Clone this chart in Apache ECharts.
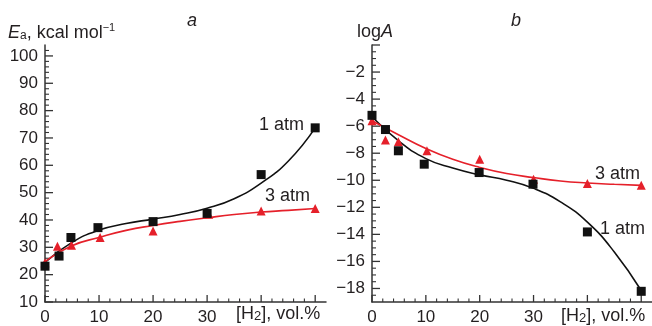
<!DOCTYPE html>
<html><head><meta charset="utf-8">
<script src="https://cdn.jsdelivr.net/npm/echarts@6/dist/echarts.min.js"></script>
<style>html,body{margin:0;padding:0;background:#fff}#c{width:652px;height:326px}</style>
</head><body><div id="c"></div>
<script>
// ---- Panel a: activation energy ----
const aX1 = [0, 2.6, 4.8, 9.8, 20, 30, 40, 50];
const aY1 = [23.1, 26.8, 33.6, 37.2, 39.4, 42.4, 56.6, 73.7];      // 1 atm squares
const aX3 = [0, 2.3, 4.9, 10.2, 20, 30.3, 40, 50];
const aY3 = [24.4, 30.4, 30.8, 33.6, 36.0, 42.1, 43.3, 44.2];      // 3 atm triangles
const aFitX = [0, 5, 10, 15, 20, 25, 30, 35, 40, 45, 50];
const aFit1 = [24.5, 31.8, 36.3, 38.7, 40.3, 42.0, 44.3, 47.8, 53.5, 61.5, 73.7];
const aFit3 = [24.8, 30.6, 33.6, 36.2, 38.0, 39.5, 40.8, 42.0, 42.9, 43.5, 44.2];
// ---- Panel b: log A ----
const bX1 = [0, 2.5, 4.9, 9.7, 19.9, 29.9, 40, 50];
const bY1 = [-5.2, -6.25, -7.82, -8.81, -9.43, -10.29, -13.82, -18.21];
const bX3 = [0, 2.5, 4.9, 10.2, 20, 30, 40, 50];
const bY3 = [-5.6, -7.03, -7.16, -7.82, -8.44, -9.92, -10.24, -10.36];
const bFitX = [0, 5, 10, 15, 20, 25, 30, 35, 40, 45, 50];
const bFit1 = [-5.3, -7.1, -8.4, -9.1, -9.6, -10.0, -10.6, -11.6, -13.1, -15.3, -18.15];
const bFit3 = [-5.6, -6.65, -7.65, -8.45, -9.05, -9.5, -9.8, -10.05, -10.2, -10.3, -10.38];
// ---- ticks & tick labels ----
const xMajor = [0, 10, 20, 30, 40, 50];
const xLabels = [0, 10, 20, 30];
const xMinor = [2,4,6,8,12,14,16,18,22,24,26,28,32,34,36,38,42,44,46,48];
const aYMajor = [10,20,30,40,50,60,70,80,90,100];
const aYMinor = [12,14,16,18,22,24,26,28,32,34,36,38,42,44,46,48,52,54,56,58,62,64,66,68,72,74,76,78,82,84,86,88,92,94,96,98,102];
const bYMajor = [-18,-16,-14,-12,-10,-8,-6,-4,-2,0];
const bYLabels = [-18,-16,-14,-12,-10,-8,-6,-4,-2];
const bYMinor = [-18.5,-17.5,-17,-16.5,-15.5,-15,-14.5,-13.5,-13,-12.5,-11.5,-11,-10.5,-9.5,-9,-8.5,-7.5,-7,-6.5,-5.5,-5,-4.5,-3.5,-3,-2.5,-1.5,-1,-0.5];

const FONT = "'Liberation Sans', Arial, sans-serif";
const TXT = '#231f20';
const RED = '#e5202a';
const BLK = '#111111';
const AX = '#333';

const panels = [
  { left: 45, xMin: 0, xMax: 52, yMin: 10, yMax: 104, yMajor: aYMajor, yLabels: aYMajor, yMinor: aYMinor },
  { left: 372, xMin: 0, xMax: 52, yMin: -19, yMax: 0, yMajor: bYMajor, yLabels: bYLabels, yMinor: bYMinor }
];
const grids = [], xAxis = [], yAxis = [], tickSeries = [];
panels.forEach((p, gi) => {
  grids.push({ left: p.left, top: 45, width: 281, height: 257, containLabel: false });
  xAxis.push({ gridIndex: gi, type: 'value', min: p.xMin, max: p.xMax, position: 'bottom',
    axisLine: { show: true, onZero: false, lineStyle: { color: AX, width: 1.5 } },
    axisTick: { show: false },
    axisLabel: { show: true, customValues: xLabels, fontSize: 17, fontFamily: FONT, color: TXT, margin: 7 },
    splitLine: { show: false } });
  yAxis.push({ gridIndex: gi, type: 'value', min: p.yMin, max: p.yMax, position: 'left',
    axisLine: { show: true, onZero: false, lineStyle: { color: AX, width: 1.5 } },
    axisTick: { show: false },
    axisLabel: { show: true, customValues: p.yLabels, fontSize: 17, fontFamily: FONT, color: TXT, margin: 7,
      formatter: v => String(v).replace('-', '\u2212') },
    splitLine: { show: false } });
  // inward tick marks, positioned through the axes' own scales
  const tick = (vals, isX, len, w) => ({
    type: 'custom', xAxisIndex: gi, yAxisIndex: gi, clip: false, silent: true, z: 1,
    data: vals.map(v => isX ? [v, p.yMin] : [p.xMin, v]),
    renderItem: (params, api) => {
      const c = api.coord([api.value(0), api.value(1)]);
      return { type: 'line',
        shape: isX ? { x1: c[0], y1: c[1], x2: c[0], y2: c[1] - len } : { x1: c[0], y1: c[1], x2: c[0] + len, y2: c[1] },
        style: { stroke: AX, lineWidth: w } };
    }
  });
  tickSeries.push(tick(xMajor, true, 7, 1.3), tick(xMinor, true, 3.5, 1.1),
                  tick(p.yMajor, false, 8, 1.3), tick(p.yMinor, false, 4, 1.1));
});

const zip = (xs, ys) => xs.map((x, i) => [x, ys[i]]);
function fitLine(gi, data, color) {
  return { type: 'line', xAxisIndex: gi, yAxisIndex: gi, data: data, smooth: 0.5,
    showSymbol: false, symbol: 'none', lineStyle: { color: color, width: 1.6 }, z: 2, silent: true };
}
function pts(gi, data, sym, color, size) {
  return { type: 'scatter', xAxisIndex: gi, yAxisIndex: gi, data: data, symbol: sym, symbolSize: size,
    itemStyle: { color: color, opacity: 1 }, z: 3, silent: true };
}

const chart = echarts.init(document.getElementById('c'), null, { renderer: 'canvas' });
const base = { fontFamily: FONT, fontSize: 18, fill: TXT };
function hName(left, top) {
  return { type: 'text', left: left, top: top, style: { ...base, text: '{n|[H}{s|2}{n|], vol.%}',
    rich: {
      n: { fontSize: 18, fontFamily: FONT, fill: TXT, lineHeight: 20, verticalAlign: 'bottom' },
      s: { fontSize: 13, fontFamily: FONT, fill: TXT, lineHeight: 13, verticalAlign: 'bottom' }
    } } };
}
chart.setOption({
  animation: false,
  grid: grids, xAxis: xAxis, yAxis: yAxis,
  series: [
    ...tickSeries,
    fitLine(0, zip(aFitX, aFit1), BLK),
    fitLine(0, zip(aFitX, aFit3), RED),
    pts(0, zip(aX3, aY3), 'triangle', RED, 9),
    pts(0, zip(aX1, aY1), 'rect', BLK, 9),
    fitLine(1, zip(bFitX, bFit1), BLK),
    fitLine(1, zip(bFitX, bFit3), RED),
    pts(1, zip(bX3, bY3), 'triangle', RED, 9),
    pts(1, zip(bX1, bY1), 'rect', BLK, 9)
  ],
  graphic: [
    { type: 'text', left: 187, top: 12, style: { ...base, text: 'a', fontStyle: 'italic' } },
    { type: 'text', left: 511, top: 12, style: { ...base, text: 'b', fontStyle: 'italic' } },
    { type: 'text', left: 8, top: 22, style: { ...base, text: '{i|E}{sub|a}{n|, kcal mol}{sup|\u22121}',
      rich: {
        i: { fontStyle: 'italic', fontSize: 18, fontFamily: FONT, fill: TXT, lineHeight: 20, verticalAlign: 'bottom' },
        n: { fontSize: 18, fontFamily: FONT, fill: TXT, lineHeight: 20, verticalAlign: 'bottom' },
        sub: { fontSize: 12, fontFamily: FONT, fill: TXT, lineHeight: 12, verticalAlign: 'bottom' },
        sup: { fontSize: 11, fontFamily: FONT, fill: TXT, lineHeight: 11, verticalAlign: 'top' }
      } } },
    { type: 'text', left: 357, top: 23, style: { ...base, text: 'log{i|A}',
      rich: { i: { fontStyle: 'italic', fontSize: 18, fontFamily: FONT, fill: TXT } } } },
    hName(236, 305),
    hName(561, 307),
    { type: 'text', left: 259, top: 116, style: { ...base, text: '1 atm' } },
    { type: 'text', left: 265, top: 187, style: { ...base, text: '3 atm' } },
    { type: 'text', left: 595, top: 165, style: { ...base, text: '3 atm' } },
    { type: 'text', left: 600, top: 220, style: { ...base, text: '1 atm' } }
  ]
});
</script></body></html>
